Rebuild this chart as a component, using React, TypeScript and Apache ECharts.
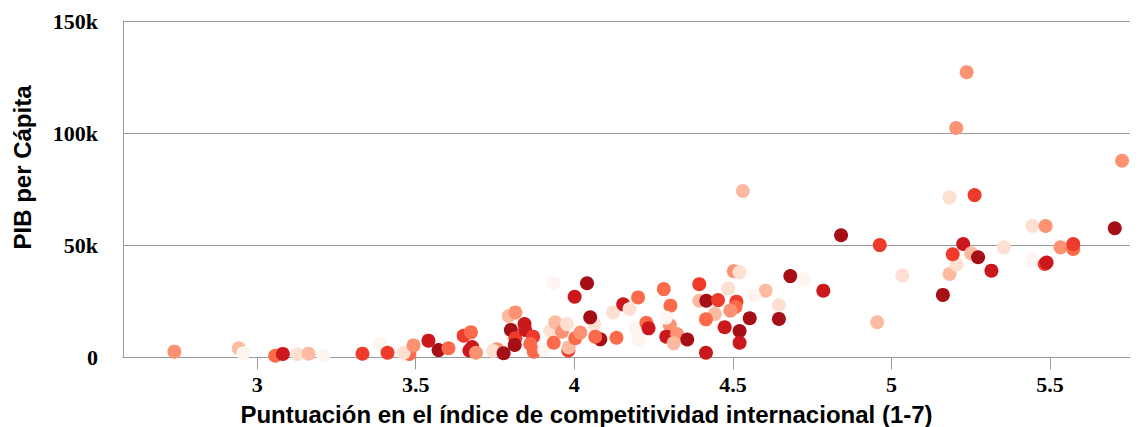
import React, { useEffect, useRef } from "react";
import * as echarts from "echarts";

// Puntuación en el índice de competitividad (x), PIB per cápita (y), tono de color (0-7)
const scores = [
  2.739, 2.942, 2.957, 3.057, 3.081, 3.128, 3.162, 3.209, 3.332, 3.390,
  3.411, 3.480, 3.462, 3.493, 3.540, 3.572, 3.603, 3.651, 3.674, 3.678,
  3.669, 3.690, 3.756, 3.744, 3.777, 3.793, 3.814, 3.800, 3.814, 3.812,
  3.843, 3.845, 3.870, 3.861, 3.872, 3.905, 3.935, 4.001, 3.924, 3.940,
  3.961, 3.977, 3.935, 3.981, 3.982, 4.003, 4.040, 4.063, 4.050, 4.019,
  4.082, 4.066, 4.122, 4.154, 4.174, 4.201, 4.133, 4.192, 4.203, 4.227,
  4.234, 4.282, 4.303, 4.301, 4.290, 4.324, 4.313, 4.356, 4.289, 4.503,
  4.521, 4.394, 4.485, 4.603, 4.566, 4.681, 4.723, 4.785, 4.394, 4.416,
  4.453, 4.511, 4.508, 4.492, 4.443, 4.415, 4.645, 4.553, 4.645, 4.474,
  4.521, 4.521, 4.415, 4.531, 4.841, 4.963, 4.955, 5.034, 5.162, 5.183,
  5.205, 5.193, 5.226, 5.251, 5.273, 5.315, 5.354, 5.444, 5.486, 5.444,
  5.483, 5.489, 5.533, 5.573, 5.573, 5.704, 5.183, 5.262, 5.237, 5.204,
  5.727,
];

const gdp = [
  2600, 4100, 1900, 800, 1600, 1400, 1700, 800, 1700, 6000,
  2100, 1600, 2100, 5400, 7500, 3300, 4100, 9700, 11200, 4700,
  3100, 2100, 3700, 2900, 1900, 18500, 20100, 12300, 8600, 5600,
  14900, 12300, 9300, 6000, 2600, 3300, 33100, 27100, 11900, 15700,
  11500, 14900, 6600, 3100, 4500, 8600, 33100, 14900, 17900, 11100,
  8100, 9300, 20100, 23700, 21600, 26800, 8800, 13000, 7800, 15500,
  13000, 30500, 23100, 14500, 9300, 10500, 6300, 8000, 17800, 38500,
  38000, 32700, 30800, 29800, 27500, 36300, 34900, 29800, 25300, 25300,
  25600, 24900, 22500, 20900, 19400, 17000, 23400, 17500, 17200, 13500,
  11800, 6600, 2100, 74200, 54500, 50100, 15700, 36500, 27900, 37200,
  41500, 46000, 50600, 46400, 44700, 38700, 49100, 58700, 58600, 43800,
  41700, 42300, 49100, 48400, 50600, 57600, 71400, 72400, 127200, 102300,
  87700,
];

const shade = [
  3, 2, 0, 4, 6, 1, 2, 0, 5, 0,
  5, 4, 1, 3, 6, 7, 4, 5, 4, 6,
  6, 3, 3, 1, 7, 2, 3, 7, 5, 7,
  6, 6, 5, 4, 4, 0, 0, 6, 1, 2,
  3, 1, 4, 5, 2, 4, 7, 1, 7, 3,
  7, 4, 1, 6, 1, 4, 4, 0, 0, 4,
  6, 4, 4, 3, 6, 3, 2, 7, 0, 3,
  1, 5, 1, 2, 0, 7, 0, 6, 2, 7,
  5, 5, 4, 3, 2, 4, 1, 7, 7, 6,
  7, 6, 6, 2, 7, 5, 2, 1, 7, 2,
  1, 5, 6, 2, 7, 6, 1, 1, 3, 0,
  5, 6, 3, 4, 5, 7, 1, 5, 3, 3,
  3,
];

const palette = [
  "#fff5f0", "#fee0d2", "#fcbba1", "#fc9272",
  "#fb6a4a", "#ef3b2c", "#cb181d", "#a50f15",
];

const xTicks = [3, 3.5, 4, 4.5, 5, 5.5];

const xTitle = "Puntuación en el índice de competitividad internacional (1-7)";
const yTitle = "PIB per Cápita";

export default function App() {
  const ref = useRef<HTMLDivElement>(null);

  useEffect(() => {
    if (!ref.current) return;
    const chart = echarts.init(ref.current, null, { renderer: "svg" });
    const data = scores.map((s, i) => ({
      value: [s, gdp[i]],
      itemStyle: { color: palette[shade[i]] },
    }));
    const grey = "#9a9a9a";
    const serifBold = {
      fontFamily: "'Liberation Serif', 'Times New Roman', serif",
      fontWeight: "bold" as const,
      fontSize: 22,
      color: "#000",
    };
    chart.setOption({
      animation: false,
      grid: { left: 123, right: 10, top: 21, bottom: 69.5, containLabel: false },
      xAxis: {
        type: "value",
        min: 2.577,
        max: 5.752,
        axisLine: { show: true, lineStyle: { color: grey, width: 1 } },
        axisTick: {
          show: true,
          length: 12,
          customValues: xTicks,
          lineStyle: { color: grey, width: 1 },
        },
        axisLabel: {
          customValues: xTicks,
          margin: 16,
          formatter: (v: number) => String(v),
          ...serifBold,
        },
        splitLine: { show: false },
      },
      yAxis: {
        type: "value",
        min: 0,
        max: 150000,
        interval: 50000,
        axisLine: { show: true, lineStyle: { color: grey, width: 1 } },
        axisTick: { show: false },
        axisLabel: {
          margin: 25,
          formatter: (v: number) => (v === 0 ? "0" : v / 1000 + "k"),
          ...serifBold,
        },
        splitLine: { show: true, lineStyle: { color: grey, width: 1 } },
      },
      graphic: [
        {
          type: "text",
          x: 586.5,
          y: 414,
          style: {
            text: xTitle,
            fontFamily: "'Liberation Sans', Arial, sans-serif",
            fontWeight: "bold",
            fontSize: 24,
            fill: "#000",
            textAlign: "center",
            textVerticalAlign: "middle",
          },
        },
        {
          type: "text",
          x: 22,
          y: 167.5,
          rotation: Math.PI / 2,
          style: {
            text: yTitle,
            fontFamily: "'Liberation Sans', Arial, sans-serif",
            fontWeight: "bold",
            fontSize: 24,
            fill: "#000",
            textAlign: "center",
            textVerticalAlign: "middle",
          },
        },
      ],
      series: [
        {
          type: "scatter",
          symbol: "circle",
          symbolSize: 14,
          data,
          itemStyle: { opacity: 1 },
        },
      ],
    });
    return () => chart.dispose();
  }, []);

  return (
    <div
      ref={ref}
      style={{ position: "absolute", left: 0, top: 0, width: 1140, height: 427 }}
    />
  );
}
